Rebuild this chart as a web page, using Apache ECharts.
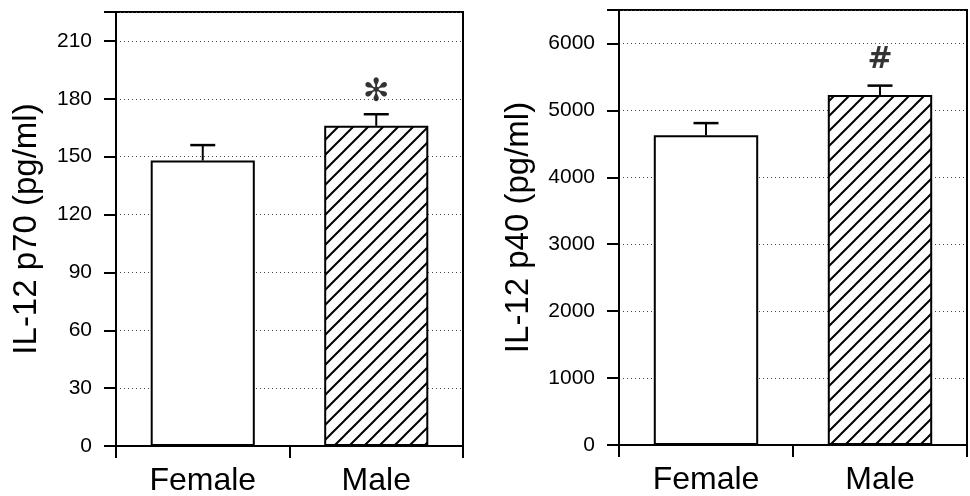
<!DOCTYPE html>
<html>
<head>
<meta charset="utf-8">
<script src="https://cdn.jsdelivr.net/npm/echarts@6/dist/echarts.min.js"></script>
<style>
html,body{margin:0;padding:0;background:#fff;}
#c{width:970px;height:496px;}
</style>
</head>
<body>
<div id="c"></div>
<script>
// ---- data ----
const categories = ['Female', 'Male'];
const p70Values = [148, 166];
const p70Errors = [8, 6];
const p70Ticks = [0, 30, 60, 90, 120, 150, 180, 210];
const p40Values = [4630, 5230];
const p40Errors = [180, 140];
const p40Ticks = [0, 1000, 2000, 3000, 4000, 5000, 6000];
const p70Mark = { category: 'Male', value: 183, text: '✻' };
const p40Mark = { category: 'Male', value: 5750, text: '#' };
const titles = ['IL-12 p70 (pg/ml)', 'IL-12 p40 (pg/ml)'];

// hatch pattern
const hatch = document.createElement('canvas');
hatch.width = 15; hatch.height = 15;
(function () {
  const g = hatch.getContext('2d');
  g.fillStyle = '#fff'; g.fillRect(0, 0, 15, 15);
  g.strokeStyle = '#000'; g.lineWidth = 2;
  g.beginPath();
  g.moveTo(-1, 16); g.lineTo(16, -1);
  g.moveTo(-3, 3); g.lineTo(3, -3);
  g.moveTo(12, 18); g.lineTo(18, 12);
  g.stroke();
})();

const tickFont = '"Liberation Sans Narrow", "Liberation Sans", Arial, sans-serif';
const titleFont = '"Liberation Sans", Arial, Helvetica, sans-serif';

function yAxis(idx, ticks, max, gap) {
  return {
    type: 'value', gridIndex: idx, min: 0, max: max, interval: ticks[1] - ticks[0],
    name: titles[idx], nameLocation: 'middle', nameGap: gap,
    nameTextStyle: { fontFamily: titleFont, fontSize: 33, color: '#000' },
    axisLine: { show: true, lineStyle: { color: '#000', width: 2 } },
    axisTick: { show: true, inside: false, length: 12, lineStyle: { color: '#000', width: 2 } },
    axisLabel: {
      margin: 24, fontFamily: tickFont, fontSize: 21, color: '#000',
      formatter: v => (ticks.indexOf(v) >= 0 ? String(v) : '')
    },
    splitLine: { show: true, lineStyle: { color: '#444', type: [1, 3], width: 1 } }
  };
}
function xAxis(idx) {
  return {
    type: 'category', gridIndex: idx, data: categories, boundaryGap: true,
    axisLine: { show: true, lineStyle: { color: '#000', width: 2 } },
    axisTick: { show: true, alignWithLabel: false, length: 12, lineStyle: { color: '#000', width: 2 } },
    axisLabel: { margin: 19, fontFamily: titleFont, fontSize: 32, color: '#000' },
    splitLine: { show: false }
  };
}
function bars(idx, vals) {
  return {
    type: 'bar', xAxisIndex: idx, yAxisIndex: idx, barWidth: '60%',
    data: vals.map((v, i) => ({
      value: v,
      itemStyle: {
        color: i === 0 ? '#fff' : { image: hatch, repeat: 'repeat' },
        borderColor: '#000', borderWidth: 2
      }
    })),
    z: 3
  };
}
function errs(idx, vals, errsArr) {
  return {
    type: 'custom', xAxisIndex: idx, yAxisIndex: idx, z: 4,
    data: vals.map((v, i) => [i, v, v + errsArr[i]]),
    renderItem: function (params, api) {
      const base = api.coord([api.value(0), api.value(1)]);
      const top = api.coord([api.value(0), api.value(2)]);
      const hw = 12.5;
      return {
        type: 'group',
        children: [
          { type: 'line', shape: { x1: base[0], y1: base[1], x2: top[0], y2: top[1] }, style: { stroke: '#000', lineWidth: 2 } },
          { type: 'line', shape: { x1: top[0] - hw, y1: top[1], x2: top[0] + hw, y2: top[1] }, style: { stroke: '#000', lineWidth: 2.5 } }
        ]
      };
    }
  };
}
function mark(idx, m, font, size, weight) {
  return {
    type: 'scatter', xAxisIndex: idx, yAxisIndex: idx, symbolSize: 0, z: 5,
    data: [[m.category, m.value]],
    label: {
      show: true, position: 'inside', formatter: m.text,
      fontFamily: font, fontSize: size, fontWeight: weight, color: '#000'
    },
    silent: true
  };
}

const chart = echarts.init(document.getElementById('c'), null, { renderer: 'canvas' });
chart.setOption({
  animation: false,
  backgroundColor: '#fff',
  grid: [
    { left: 116, top: 12, width: 347, height: 434, outerBoundsMode: 'none', containLabel: false, show: true, borderColor: '#000', borderWidth: 2, backgroundColor: 'transparent' },
    { left: 619, top: 10, width: 348, height: 435, outerBoundsMode: 'none', containLabel: false, show: true, borderColor: '#000', borderWidth: 2, backgroundColor: 'transparent' }
  ],
  xAxis: [xAxis(0), xAxis(1)],
  yAxis: [yAxis(0, p70Ticks, 225, 73), yAxis(1, p40Ticks, 6500, 84)],
  series: [
    bars(0, p70Values), errs(0, p70Values, p70Errors), mark(0, p70Mark, '"DejaVu Sans", sans-serif', 32, 'bold'),
    bars(1, p40Values), errs(1, p40Values, p40Errors), mark(1, p40Mark, '"DejaVu Sans", sans-serif', 30, 'bold')
  ]
});
</script>
</body>
</html>
